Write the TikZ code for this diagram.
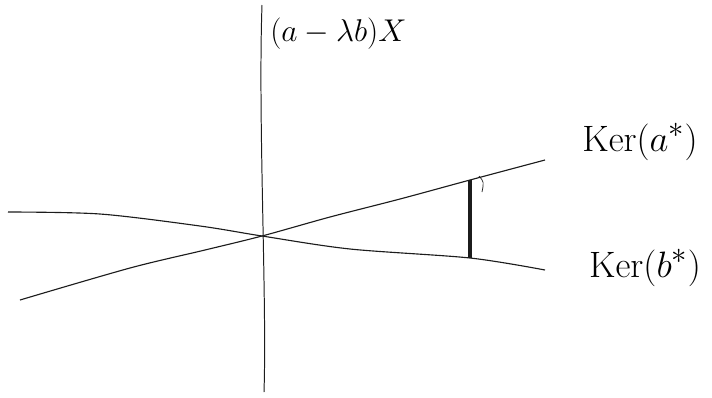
\documentclass[tikz,border=0pt]{standalone}
\usepackage{amsmath,amssymb}
\usetikzlibrary{positioning,calc}
\definecolor{pencil}{HTML}{1C1C1C}

\begin{document}
\begin{tikzpicture}[x=0.025cm,y=-0.025cm]
        \useasboundingbox (0,0) rectangle (712,397);
        \coordinate (O) at (262,236);
        \coordinate (axTop) at (262,5);
        \coordinate (axBot) at (264,392);
        \coordinate (aL) at (20,300);
        \coordinate (aR) at (545,160);
        \coordinate (bL) at (8,212);
        \coordinate (bR) at (545,270);
        \coordinate (segTop) at (470,180);
        \coordinate (segBot) at (470,258);
        \draw[pencil,line width=0.7pt] (axTop) .. controls (258,120) and (267,300) .. (axBot);
        \draw[pencil,line width=0.8pt] plot[smooth] coordinates {(aL) (130,268) (205,250) (O) (330,217) (400,199) (segTop) (aR)};
        \draw[pencil,line width=0.8pt] plot[smooth] coordinates {(bL) (100,214) (200,226) (O) (350,249) (segBot) (bR)};
        \draw[pencil,line width=3pt] (segTop) -- (segBot);
        \draw[pencil,line width=0.5pt] (479,176) .. controls (484,182) .. (482,192);
        \node[font=\Huge,scale=0.9,inner sep=0pt,anchor=west] (lam) at (270,34) {$(a-\lambda b)X$};
        \node[font=\Huge,scale=1.05,inner sep=0pt] (kerA) at (640,142) {$\mathrm{Ker}(a^*)$};
        \node[font=\Huge,scale=1.05,inner sep=0pt] (kerB) at (645,268) {$\mathrm{Ker}(b^*)$};
      \end{tikzpicture}
\end{document}
